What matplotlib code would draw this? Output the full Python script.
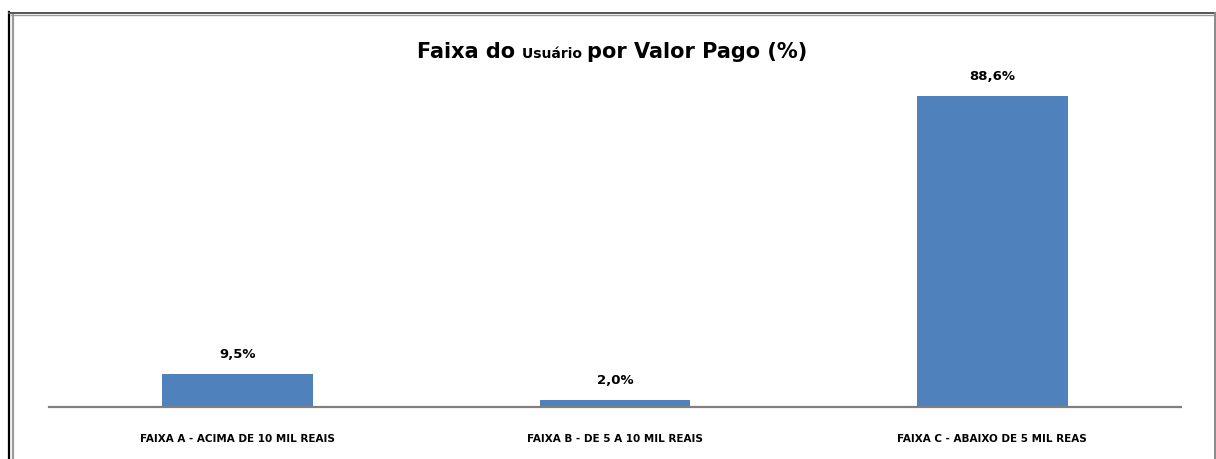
import matplotlib
matplotlib.use("Agg")
import matplotlib.pyplot as plt
from matplotlib.lines import Line2D

# data
categories = ["FAIXA A - ACIMA DE 10 MIL REAIS",
              "FAIXA B - DE 5 A 10 MIL REAIS",
              "FAIXA C - ABAIXO DE 5 MIL REAS"]
values = [9.5, 2.0, 88.6]
value_labels = ["9,5%", "2,0%", "88,6%"]

plt.rcParams['font.family'] = ['DejaVu Sans']

W, H = 1216, 460
fig = plt.figure(figsize=(W / 100, H / 100), dpi=100)

# plot area in pixel coordinates
left, right, top, bottom = 49, 1181, 57, 408
ax = fig.add_axes([left / W, 1 - bottom / H, (right - left) / W, (bottom - top) / H])

x = list(range(len(categories)))
ax.bar(x, values, width=0.4, color="#4F81BD", zorder=2)
ax.set_xlim(-0.5, len(categories) - 0.5)
ax.set_ylim(0, 100)

for xi, v, lab in zip(x, values, value_labels):
    ax.annotate(lab, (xi, v), xytext=(0, 10), textcoords="offset points",
                ha="center", va="bottom", fontsize=9.5, fontweight="bold")

for s in ["top", "right", "left"]:
    ax.spines[s].set_visible(False)
ax.spines["bottom"].set_color("#808080")
ax.spines["bottom"].set_linewidth(1.6)
ax.set_yticks([])
ax.set_xticks(x)
ax.set_xticklabels(categories, fontsize=7.5, fontweight="bold")
ax.tick_params(axis="x", length=0, pad=19)

# title in three pieces, middle word smaller
parts = [("Faixa do ", 15), ("Usuário ", 10), ("por Valor Pago (%)", 15)]
texts = []
for s, size in parts:
    texts.append(fig.text(0, 1 - 58 / H, s, fontsize=size, fontweight="bold",
                          ha="left", va="baseline"))
fig.canvas.draw()
r = fig.canvas.get_renderer()
widths = [t.get_window_extent(r).width for t in texts]
total = sum(widths)
xpos = 612 - total / 2
for t, w in zip(texts, widths):
    t.set_x(xpos / W)
    xpos += w

# frame of the chart area
def fline(xs, ys, color, lw):
    fig.add_artist(Line2D([v / W for v in xs], [1 - v / H for v in ys],
                          color=color, linewidth=lw, transform=fig.transFigure))

fline([9, 9], [13, 460], "black", 1.6)
fline([13, 13], [15, 460], "#9a9a9a", 1.6)
fline([9, 1216], [13.5, 13.5], "#555555", 1.4)
fline([11, 1216], [15.5, 15.5], "#9a9a9a", 1.0)
fline([1214.5, 1214.5], [14, 460], "#8a8a8a", 1.4)

fig.savefig("out.png", dpi=100)
